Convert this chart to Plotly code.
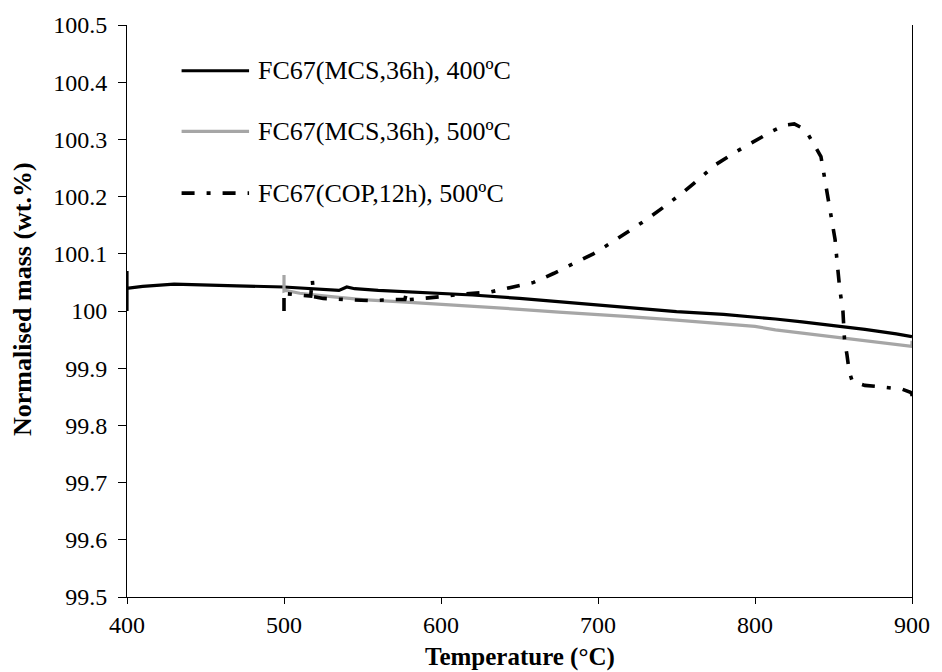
import plotly.graph_objects as go

# Thermogravimetric traces: temperature (°C) vs normalised mass (wt.%)
t_mcs400 = [400, 400, 400, 401, 410, 430, 450, 470, 500, 520, 535, 540, 545, 560,
            580, 600, 620, 650, 680, 700, 720, 750, 780, 800, 813, 830, 850, 870, 890, 900]
m_mcs400 = [100.00, 100.07, 100.04, 100.04, 100.043, 100.047, 100.046, 100.044, 100.042,
            100.039, 100.036, 100.042, 100.039, 100.036, 100.033, 100.030, 100.028, 100.022,
            100.015, 100.010, 100.005, 99.999, 99.994, 99.990, 99.986, 99.981, 99.975,
            99.968, 99.960, 99.955]

t_mcs500 = [500, 500, 501, 510, 530, 550, 575, 600, 625, 650, 675, 700, 720, 750, 775,
            800, 813, 825, 850, 875, 900, 900]
m_mcs500 = [100.063, 100.035, 100.036, 100.031, 100.025, 100.020, 100.016, 100.012, 100.008,
            100.003, 99.998, 99.994, 99.990, 99.984, 99.979, 99.973, 99.967, 99.963, 99.955,
            99.947, 99.938, 99.948]

t_cop500 = [500, 500, 502, 510, 517, 518, 519, 525, 540, 555, 570, 577, 578, 580, 600,
            615, 631, 646, 659, 672, 684, 697, 707, 720, 731, 743, 754, 764, 775, 787,
            800, 810, 819, 825, 830, 834, 842, 844, 847, 849, 851, 852.5, 854, 856, 857,
            858.6, 860, 862, 870, 878, 894, 899, 900, 900]
m_cop500 = [100.0, 100.035, 100.03, 100.028, 100.026, 100.055, 100.025, 100.022, 100.02,
            100.018, 100.02, 100.02, 100.033, 100.02, 100.025, 100.03, 100.033, 100.042,
            100.05, 100.066, 100.082, 100.1, 100.117, 100.14, 100.16, 100.184, 100.207,
            100.23, 100.256, 100.277, 100.297, 100.313, 100.325, 100.327, 100.32, 100.308,
            100.27, 100.238, 100.195, 100.16, 100.125, 100.08, 100.038, 100.0, 99.95,
            99.923, 99.894, 99.877, 99.87, 99.868, 99.863, 99.858, 99.855, 99.835]

series_names = ["FC67(MCS,36h), 400ºC", "FC67(MCS,36h), 500ºC", "FC67(COP,12h), 500ºC"]

x_ticks = [400, 500, 600, 700, 800, 900]
y_ticks = [99.5, 99.6, 99.7, 99.8, 99.9, 100.0, 100.1, 100.2, 100.3, 100.4, 100.5]
y_ticktext = ["99.5", "99.6", "99.7", "99.8", "99.9", "100", "100.1", "100.2", "100.3",
              "100.4", "100.5"]

FONT = "Liberation Serif, Times New Roman, serif"
dashdot = "13px,12px,4px,12px"
styles = [
    dict(color="#000000", width=3.2, dash="solid"),
    dict(color="#a6a6a6", width=3.2, dash="solid"),
    dict(color="#000000", width=3.6, dash=dashdot),
]

fig = go.Figure()
for (tx, my), name, st in zip([(t_mcs400, m_mcs400), (t_mcs500, m_mcs500),
                               (t_cop500, m_cop500)], series_names, styles):
    fig.add_trace(go.Scatter(x=tx, y=my, mode="lines", name=name, showlegend=False,
                             line=st))

# Legend drawn in paper coordinates so the sample lines are long
left, right, top, bottom = 127, 24, 22, 75
W, H = 942, 672
pw, ph = W - left - right, H - top - bottom
legend_rows = [68, 129, 191]
for name, st, yp in zip(series_names, styles, legend_rows):
    yy = 1 - (yp - top) / ph
    x0 = (182 - left) / pw
    x1 = (250 - left) / pw
    fig.add_shape(type="line", xref="paper", yref="paper", x0=x0, x1=x1, y0=yy, y1=yy,
                  line=dict(color=st["color"], width=st["width"], dash=st["dash"]))
    fig.add_annotation(xref="paper", yref="paper", x=(257 - left) / pw, y=yy,
                       xanchor="left", yanchor="middle", text=name, showarrow=False,
                       font=dict(family=FONT, size=26, color="#000"))

# Axis titles
fig.add_annotation(xref="paper", yref="paper", x=0.5, y=0, yanchor="middle",
                   yshift=-60, text="<b>Temperature (°C)</b>", showarrow=False,
                   font=dict(family=FONT, size=25, color="#000"))
fig.add_annotation(xref="paper", yref="paper", x=0, y=0.5, xanchor="center",
                   yanchor="middle", xshift=-105, yshift=12, textangle=-90,
                   text="<b>Normalised mass (wt.%)</b>", showarrow=False,
                   font=dict(family=FONT, size=26, color="#000"))

fig.update_layout(
    width=W, height=H,
    margin=dict(l=left, r=right, t=top, b=bottom),
    paper_bgcolor="white", plot_bgcolor="white",
    font=dict(family=FONT, size=24, color="#000"),
    xaxis=dict(range=[400, 900], tickvals=x_ticks, ticks="outside", ticklen=6,
               tickcolor="#000", showline=True, linecolor="#000", linewidth=1,
               showgrid=False, zeroline=False, tickfont=dict(size=24)),
    yaxis=dict(range=[99.5, 100.5], tickvals=y_ticks, ticktext=y_ticktext, ticks="outside",
               ticklen=8, tickcolor="#000", showline=True, linecolor="#000", linewidth=1,
               mirror=True, showgrid=False, zeroline=False, tickfont=dict(size=24),
               ticklabelstandoff=6),
)

fig.write_html("out.html")
